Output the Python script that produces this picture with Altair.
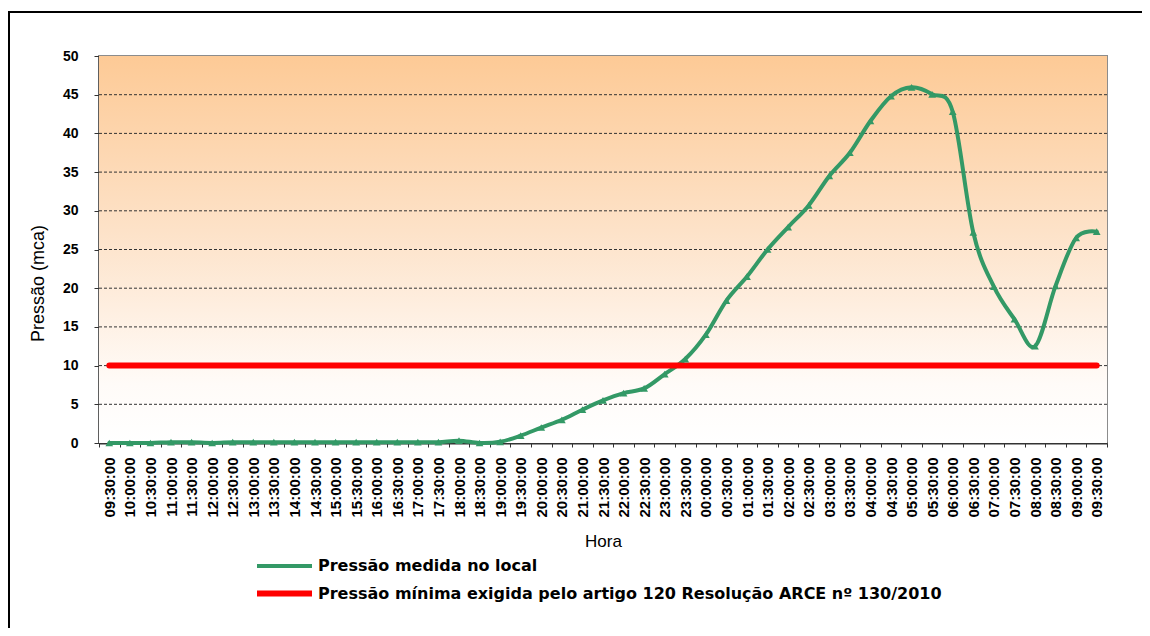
import altair as alt
import pandas as pd

hours = ["09:30:00", "10:00:00", "10:30:00", "11:00:00", "11:30:00", "12:00:00", "12:30:00",
         "13:00:00", "13:30:00", "14:00:00", "14:30:00", "15:00:00", "15:30:00", "16:00:00",
         "16:30:00", "17:00:00", "17:30:00", "18:00:00", "18:30:00", "19:00:00", "19:30:00",
         "20:00:00", "20:30:00", "21:00:00", "21:30:00", "22:00:00", "22:30:00", "23:00:00",
         "23:30:00", "00:00:00", "00:30:00", "01:00:00", "01:30:00", "02:00:00", "02:30:00",
         "03:00:00", "03:30:00", "04:00:00", "04:30:00", "05:00:00", "05:30:00", "06:00:00",
         "06:30:00", "07:00:00", "07:30:00", "08:00:00", "08:30:00", "09:00:00", "09:30:00"]

pressure = [0.0, 0.0, 0.0, 0.1, 0.1, 0.0, 0.1, 0.1, 0.1, 0.1, 0.1, 0.1, 0.1, 0.1,
            0.1, 0.1, 0.1, 0.3, 0.0, 0.15, 0.95, 2.0, 3.0, 4.3, 5.5, 6.45, 7.05, 8.9,
            10.85, 14.0, 18.4, 21.5, 25.0, 27.9, 30.7, 34.5, 37.5, 41.6, 44.8, 45.95, 45.05, 42.8,
            27.2, 20.2, 16.0, 12.5, 20.3, 26.5, 27.3]

minimum_pressure = 10

y_ticks = [0, 5, 10, 15, 20, 25, 30, 35, 40, 45, 50]
grid_values = [5, 10, 15, 20, 25, 30, 35, 40, 45]

series_names = ["Pressão medida no local",
                "Pressão mínima exigida pelo artigo 120 Resolução ARCE nº 130/2010"]
series_colors = ["#339966", "#FF0000"]
series_widths = [4, 6]

rows = []
for i, h in enumerate(hours):
    rows.append({"idx": i, "hora": h, "value": pressure[i], "serie": series_names[0]})
for i, h in enumerate(hours):
    rows.append({"idx": i, "hora": h, "value": minimum_pressure, "serie": series_names[1]})
df = pd.DataFrame(rows)
df_green = df[df["serie"] == series_names[0]]
df_grid = pd.DataFrame({"value": grid_values})

label_expr = "[" + ",".join("'" + h + "'" for h in hours) + "][datum.value]"

x_enc = alt.X(
    "idx:O",
    bandPosition=0.5,
    scale=alt.Scale(type="band", paddingInner=0, paddingOuter=0),
    axis=alt.Axis(
        title="Hora",
        labelExpr=label_expr,
        labelAngle=270,
        tickBand="extent",
        labelFont="Liberation Sans",
        labelFontSize=15,
        labelFontWeight="bold",
        labelColor="#000000",
        labelPadding=10,
        tickSize=4,
        tickColor="#333333",
        domainColor="#333333",
        domainWidth=2,
        grid=False,
        titleFont="Liberation Sans",
        titleFontSize=17,
        titleFontWeight="normal",
        titleColor="#000000",
        titleBaseline="alphabetic",
        titleY=103,
    ),
)

y_scale = alt.Scale(domain=[0, 50], nice=False)

y_enc = alt.Y(
    "value:Q",
    scale=y_scale,
    axis=alt.Axis(
        title="Pressão (mca)",
        values=y_ticks,
        grid=False,
        tickSize=5,
        tickColor="#333333",
        domainColor="#333333",
        domainWidth=2,
        labelFont="Liberation Sans",
        labelFontSize=14,
        labelFontWeight="bold",
        labelColor="#000000",
        labelPadding=16,
        titleFont="Liberation Sans",
        titleFontSize=18,
        titleFontWeight="normal",
        titleColor="#000000",
        titleAngle=270,
        titleAlign="center",
        titleBaseline="middle",
        titleX=-61,
        titleY=227,
    ),
)

gradient = alt.LinearGradient(
    gradient="linear",
    stops=[
        alt.GradientStop(color="#FDCA96", offset=0),
        alt.GradientStop(color="#FDE2C8", offset=0.45),
        alt.GradientStop(color="#FFFBF8", offset=0.85),
        alt.GradientStop(color="#FFFFFF", offset=1),
    ],
    x1=0, x2=0, y1=0, y2=1,
)

one_row = pd.DataFrame({"k": [0]})

# outer chart frame: thin filled bars on the top and left edges
frame_top = alt.Chart(one_row).mark_rect(color="#000000", strokeWidth=0).encode(
    x=alt.value(-91), x2=alt.value(1043), y=alt.value(-45), y2=alt.value(-43)
)
frame_left = alt.Chart(one_row).mark_rect(color="#000000", strokeWidth=0).encode(
    x=alt.value(-91), x2=alt.value(-89), y=alt.value(-45), y2=alt.value(572)
)

background = alt.Chart(one_row).mark_rect(color=gradient).encode(
    x=alt.value(0), x2=alt.value("width"), y=alt.value(0), y2=alt.value("height")
)

grid = alt.Chart(df_grid).mark_rule(
    color="#333333", strokeWidth=1, strokeDash=[3, 2]
).encode(y=y_enc)

lines = alt.Chart(df).mark_line(interpolate="cardinal", strokeCap="round").encode(
    x=x_enc,
    y=y_enc,
    detail="serie:N",
    color=alt.Color(
        "serie:N",
        scale=alt.Scale(domain=series_names, range=series_colors),
        legend=alt.Legend(
            title=None,
            orient="none",
            legendX=177,
            legendY=502,
            direction="vertical",
            symbolType="M-5,0L5,0",
            symbolSize=121,
            labelFont="DejaVu Sans",
            labelFontSize=16,
            labelFontWeight="bold",
            labelColor="#000000",
            labelLimit=0,
            labelOffset=25,
            rowPadding=7,
            padding=0,
        ),
    ),
    strokeWidth=alt.StrokeWidth(
        "serie:N",
        scale=alt.Scale(domain=series_names, range=series_widths),
    ),
    order=alt.Order("idx:Q"),
)

markers = alt.Chart(df_green).mark_point(
    shape="triangle-up", filled=True, size=60, color="#339966", opacity=1
).encode(x=x_enc, y=y_enc)

chart = alt.layer(frame_left, frame_top, background, grid, lines, markers).properties(
    width=1008,
    height=387,
    autosize=alt.AutoSizeParams(type="none"),
    padding={"left": 91, "top": 48, "right": 35, "bottom": 185},
    background="#FFFFFF",
).configure_view(
    stroke="#8C8C8C",
    strokeWidth=2,
)

chart.save("out.html", embed_options={"renderer": "svg", "actions": False})
